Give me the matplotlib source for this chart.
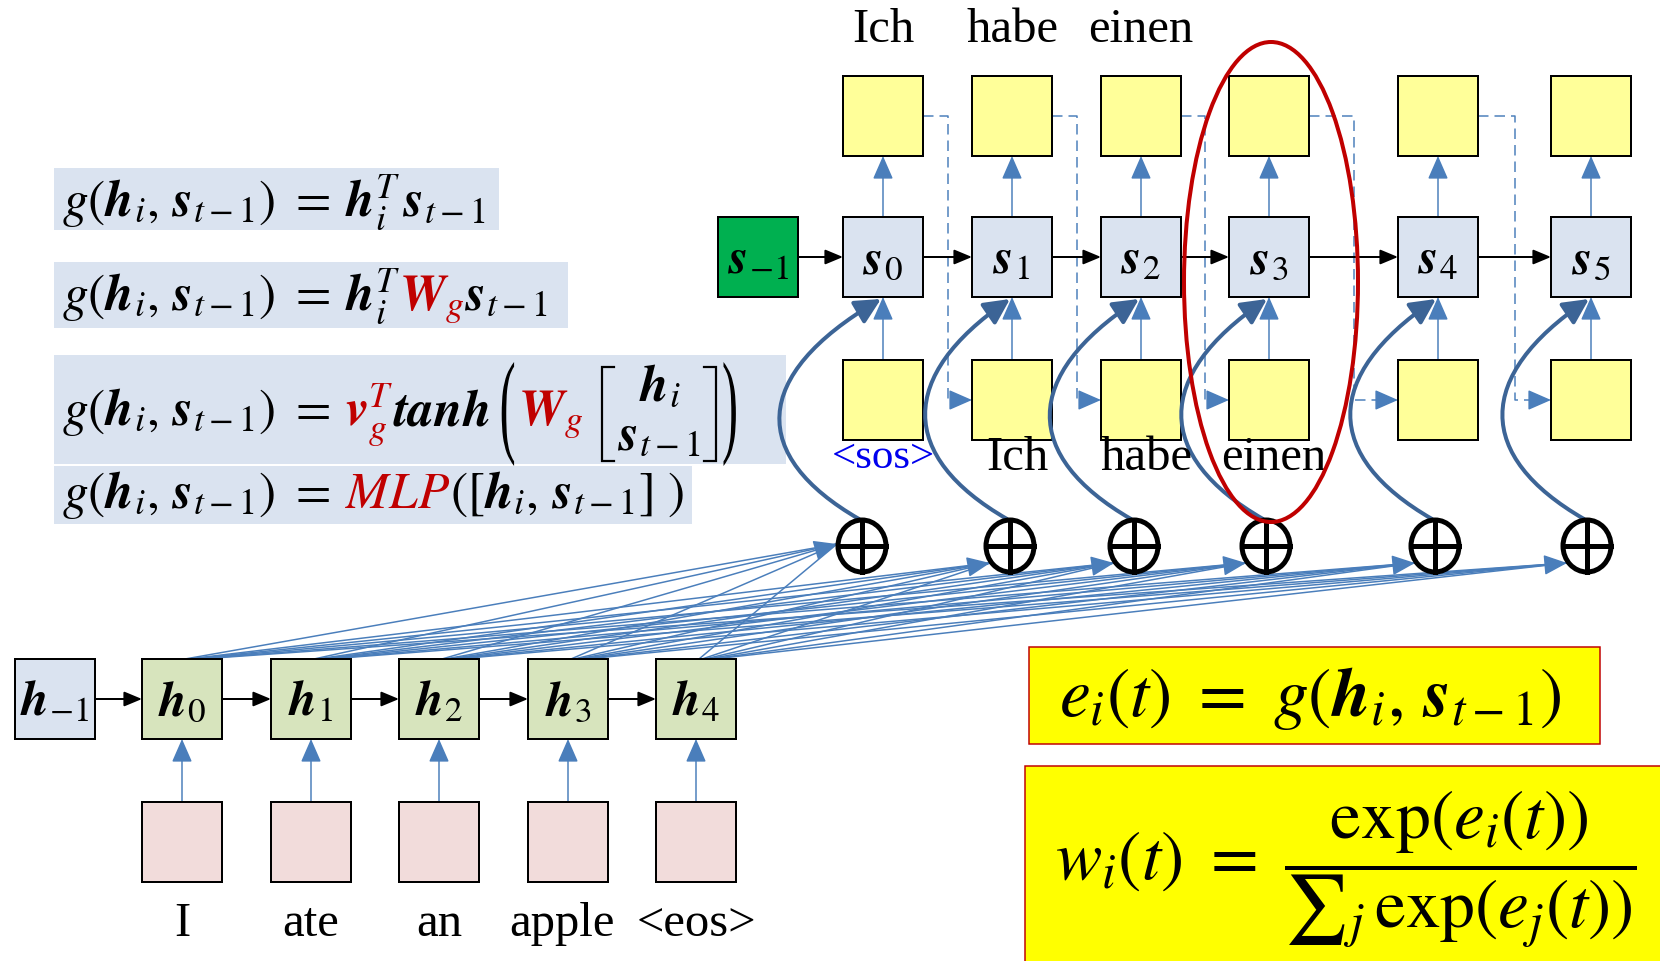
import matplotlib
matplotlib.use('Agg')
import matplotlib.pyplot as plt
from matplotlib.patches import Rectangle, Ellipse, FancyArrowPatch, PathPatch
from matplotlib.path import Path
from matplotlib.textpath import TextPath
from matplotlib.font_manager import FontProperties
from matplotlib.transforms import Affine2D

plt.rcParams['mathtext.fontset'] = 'stix'

W, H = 1660, 961

# ── content ──────────────────────────────────────────────────────────────
ENC_WORDS = ["I", "ate", "an", "apple", "<eos>"]
ENC_STATES = [r"$\mathbfit{h}_{-1}$", r"$\mathbfit{h}_0$", r"$\mathbfit{h}_1$",
              r"$\mathbfit{h}_2$", r"$\mathbfit{h}_3$", r"$\mathbfit{h}_4$"]
DEC_STATES = [r"$\mathbfit{s}_{-1}$", r"$\mathbfit{s}_0$", r"$\mathbfit{s}_1$", r"$\mathbfit{s}_2$",
              r"$\mathbfit{s}_3$", r"$\mathbfit{s}_4$", r"$\mathbfit{s}_5$"]
DEC_OUT = ["Ich", "habe", "einen"]
DEC_IN = ["<sos>", "Ich", "habe", "einen"]

G_LHS = r"$g(\mathbfit{h}_i,\,\mathbfit{s}_{t-1})\ =$"
SCORE_1 = [(G_LHS, 'k', 14), (r"$\mathbfit{h}_i^T\,\mathbfit{s}_{t-1}$", 'k', 0)]
SCORE_2 = [(G_LHS, 'k', 14), (r"$\mathbfit{h}_i^T$", 'k', 0),
           (r"$\mathbfit{W}_g$", 'red', 0), (r"$\mathbfit{s}_{t-1}$", 'k', 0)]
SCORE_3 = [(G_LHS, 'k', 14), (r"$\mathbfit{v}_g^T$", 'red', 0), (r"$\mathbfit{tanh}$", 'k', 0)]
SCORE_4 = [(G_LHS, 'k', 14), (r"$MLP$", 'red', 0),
           (r"$([\mathbfit{h}_i,\,\mathbfit{s}_{t-1}]\ )$", 'k', 0)]
E_FORMULA = r"$e_i(t)\ =\ g(\mathbfit{h}_i,\,\mathbfit{s}_{t-1})$"
W_FORMULA = r"$w_i(t)\ =\ \dfrac{\exp(e_i(t))}{{\sum}_j\,\exp(e_j(t))}$"

# ── layout (pixels, y down) ──────────────────────────────────────────────
BOX = 80
ENC_X = [15, 142, 271, 399, 528, 656]
ENC_Y, PINK_Y = 659, 802
DEC_X = [718, 843, 972, 1101, 1229, 1398, 1551]
S_Y, TOP_Y, BOT_Y = 217, 76, 360
CIRC_X = [862, 1010, 1134, 1266, 1435, 1587]
CIRC_Y = 546
FS = 37  # formula font size

BLUE = '#4a7ebb'
DARK = '#3c6496'
RED = '#c00000'
PX = 0.72  # points per pixel at dpi 100

fig = plt.figure(figsize=(W / 100, H / 100), dpi=100, facecolor='white')
ax = fig.add_axes([0, 0, 1, 1])
ax.set_xlim(0, W)
ax.set_ylim(H, 0)
ax.axis('off')
renderer = fig.canvas.get_renderer()


def box(x, y, fc, w=BOX, h=BOX, z=2):
    ax.add_patch(Rectangle((x, y), w, h, fc=fc, ec='black', lw=2 * PX, zorder=z))


def arrow(p0, p1, color, lw, hl=0.6, hw=0.25, ms=18, z=1):
    ax.add_patch(FancyArrowPatch(p0, p1, arrowstyle=f'-|>,head_length={hl},head_width={hw}',
                                 mutation_scale=ms, color=color, lw=lw * PX,
                                 shrinkA=0, shrinkB=0, zorder=z))


def pieces(x, y, parts, size):
    for s, c, gap in parts:
        t = ax.text(x, y, s, color=RED if c == 'red' else c, fontsize=size,
                    va='baseline', ha='left', zorder=6)
        x += t.get_window_extent(renderer).width + gap
    return x


def tall_glyph(ch, x, y_top, y_bot, sx=1.0):
    tp = TextPath((0, 0), ch, size=100, prop=FontProperties(family='Liberation Serif'))
    ext = tp.get_extents()
    sy = (y_bot - y_top) / ext.height
    tr = Affine2D().translate(-ext.x0, -ext.y1).scale(sx * sy, -sy).translate(x, y_top)
    ax.add_patch(PathPatch(tr.transform_path(tp), fc='black', lw=0, zorder=6))
    return x + ext.width * sx * sy


def bracket(x, y_top, y_bot, side):
    d = 12 if side == 'l' else -12
    ax.plot([x + d, x, x, x + d], [y_top, y_top, y_bot, y_bot], color='black',
            lw=2.2 * PX, solid_joinstyle='miter', zorder=6)


# ── encoder ──────────────────────────────────────────────────────────────
for j, (x, lab) in enumerate(zip(ENC_X, ENC_STATES)):
    box(x, ENC_Y, '#dae3f0' if j == 0 else '#d7e4bd')
    ax.text(x + BOX / 2, ENC_Y + BOX / 2 + 2, lab, fontsize=36, ha='center', va='center', zorder=6)
    if j > 0:
        arrow((ENC_X[j - 1] + BOX, ENC_Y + 40), (x, ENC_Y + 40), 'black', 2)
        box(x, PINK_Y, '#f2dcdb')
        arrow((x + 40, PINK_Y), (x + 40, ENC_Y + BOX), BLUE, 1.5, hl=0.8, hw=0.35)
        ax.text(x + 40 - (6 if j == 4 else 0), 924, ENC_WORDS[j - 1], fontsize=35,
                family='Liberation Serif', ha='center', va='center', zorder=6)

# ── decoder ──────────────────────────────────────────────────────────────
for k, (x, lab) in enumerate(zip(DEC_X, DEC_STATES)):
    box(x, S_Y, '#00b050' if k == 0 else '#dae3f0')
    ax.text(x + BOX / 2, S_Y + BOX / 2 + 2, lab, fontsize=36, ha='center', va='center', zorder=6)
    if k == 0:
        continue
    arrow((DEC_X[k - 1] + BOX, S_Y + 40), (x, S_Y + 40), 'black', 2)
    box(x, TOP_Y, '#ffff99')
    box(x, BOT_Y, '#ffff99')
    arrow((x + 40, S_Y), (x + 40, TOP_Y + BOX), BLUE, 1.5, hl=0.8, hw=0.35)
    arrow((x + 40, BOT_Y), (x + 40, S_Y + BOX), BLUE, 1.5, hl=0.8, hw=0.35)
    if k < len(DEC_X) - 1:
        xr, xn = x + BOX, DEC_X[k + 1]
        xv = (xr + xn) / 2
        ax.plot([xr, xv, xv, xn - 14], [TOP_Y + 40, TOP_Y + 40, BOT_Y + 40, BOT_Y + 40],
                color=BLUE, lw=1.5 * PX, ls=(0, (7, 4)), zorder=1)
        arrow((xn - 20, BOT_Y + 40), (xn, BOT_Y + 40), BLUE, 1.5, hl=0.8, hw=0.35)

for k, w in enumerate(DEC_OUT):
    ax.text(DEC_X[k + 1] + 40, 30, w, fontsize=35, family='Liberation Serif',
            ha='center', va='center', zorder=6)
for k, w in enumerate(DEC_IN):
    ax.text(DEC_X[k + 1] + 40 + (5 if k else 0), 458, w, fontsize=31 if k == 0 else 35,
            family='Liberation Serif', color='#0000ee' if k == 0 else 'black',
            ha='center', va='center', zorder=6)

# ── attention fan-in ─────────────────────────────────────────────────────
for k, cx in enumerate(CIRC_X):
    tip = (cx - 25, CIRC_Y - 2) if k == 0 else (cx - 20, CIRC_Y + 17)
    for j in range(1, 6):
        x0 = ENC_X[j] + 43 + 3 * k
        ax.plot([x0, tip[0]], [ENC_Y, tip[1]], color=BLUE, lw=1.5 * PX, zorder=1)
    mx = ENC_X[3] + 45
    dx, dy = tip[0] - mx, tip[1] - ENC_Y
    n = (dx ** 2 + dy ** 2) ** 0.5
    arrow((tip[0] - 20 * dx / n, tip[1] - 20 * dy / n), tip, BLUE, 1.5, hl=0.8, hw=0.35, z=2)

    # the ⊕ node
    ax.add_patch(Ellipse((cx, CIRC_Y), 48, 52, fc='white', ec='black', lw=5 * PX, zorder=4))
    ax.plot([cx - 24, cx + 24], [CIRC_Y, CIRC_Y], color='black', lw=5 * PX, zorder=4)
    ax.plot([cx, cx], [CIRC_Y - 26, CIRC_Y + 26], color='black', lw=5 * PX, zorder=4)

    # curved context arrow into s_k
    sx = DEC_X[k + 1] + 38
    verts = [(cx - 3, CIRC_Y - 27), (cx - 112, CIRC_Y - 90), (cx - 112, CIRC_Y - 170), (sx, S_Y + BOX + 2)]
    path = Path(verts, [Path.MOVETO, Path.CURVE4, Path.CURVE4, Path.CURVE4])
    ax.add_patch(FancyArrowPatch(path=path, arrowstyle='-|>,head_length=0.7,head_width=0.35',
                                 mutation_scale=22, color=DARK, lw=4 * PX, zorder=3))

# ── score function boxes ─────────────────────────────────────────────────
ax.add_patch(Rectangle((54, 168), 445, 62, fc='#dae3f0', lw=0, zorder=0))
ax.add_patch(Rectangle((54, 262), 514, 66, fc='#dae3f0', lw=0, zorder=0))
ax.add_patch(Rectangle((54, 355), 732, 109, fc='#dae3f0', lw=0, zorder=0))
ax.add_patch(Rectangle((54, 466), 638, 58, fc='#dae3f0', lw=0, zorder=0))

pieces(62, 216, SCORE_1, FS)
pieces(62, 310, SCORE_2, FS)
xe = pieces(62, 425, SCORE_3, FS)
xp = tall_glyph('(', xe + 12, 362, 466, sx=0.42)
xw = pieces(xp + 4, 425, [(r"$\mathbfit{W}_g$", 'red', 0)], FS)
xb = xw + 18
bracket(xb, 367, 461, 'l')
ax.text(xb + 58, 401, r"$\mathbfit{h}_i$", fontsize=FS, ha='center', va='baseline', zorder=6)
ax.text(xb + 58, 450, r"$\mathbfit{s}_{t-1}$", fontsize=FS, ha='center', va='baseline', zorder=6)
bracket(xb + 114, 367, 461, 'r')
tall_glyph(')', xb + 122, 362, 466, sx=0.42)
pieces(62, 508, SCORE_4, FS)

# ── alignment / softmax boxes ────────────────────────────────────────────
ax.add_patch(Rectangle((1029, 647), 571, 97, fc='#ffff00', ec=RED, lw=1.5 * PX, zorder=2))
ax.add_patch(Rectangle((1025, 766), 640, 200, fc='#ffff00', ec=RED, lw=1.5 * PX, zorder=2))
ax.text(1059, 716, E_FORMULA, fontsize=50, ha='left', va='baseline', zorder=6)
ax.text(1055, 880, W_FORMULA, fontsize=50, ha='left', va='baseline', zorder=6)

# ── highlight ────────────────────────────────────────────────────────────
ax.add_patch(Ellipse((1271, 282), 174, 480, fc='none', ec=RED, lw=4 * PX, zorder=7))

fig.savefig('out.png', dpi=100, facecolor='white')
